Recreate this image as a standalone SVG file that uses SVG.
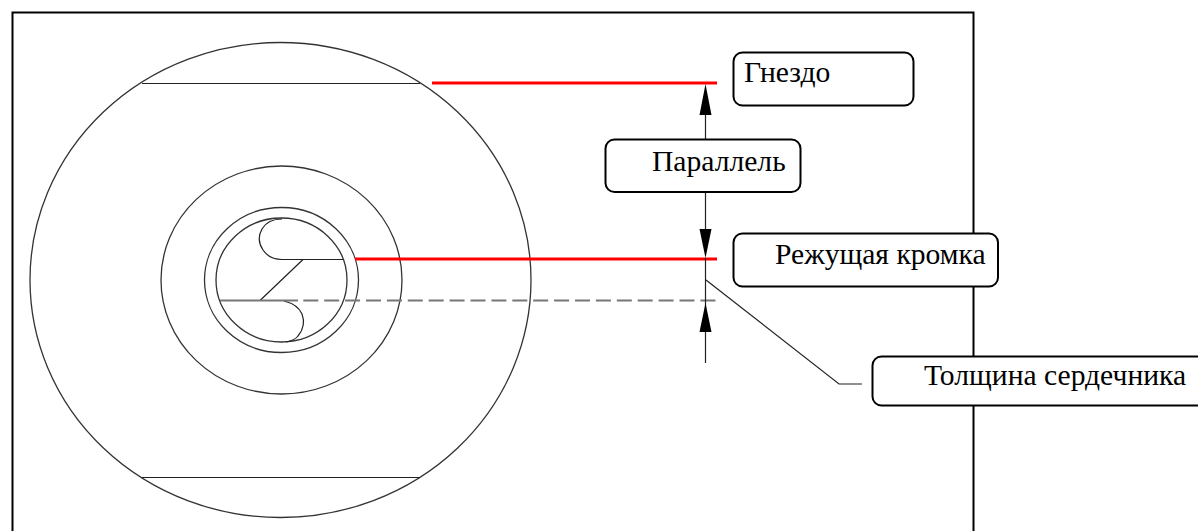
<svg xmlns="http://www.w3.org/2000/svg" width="1198" height="531" viewBox="0 0 1198 531">
<style>
.g{fill:none;stroke:#333;stroke-width:1.3}
.t{fill:none;stroke:#222;stroke-width:1.200}
.r{fill:none;stroke:#f00;stroke-width:3}
.b{fill:#fff;stroke:#000;stroke-width:2}
.a{fill:#000;stroke:none}
text{font-family:"Liberation Serif","Times New Roman",serif;font-size:29.600px;fill:#000}
</style>
<rect width="1198" height="531" fill="#fff"/>
<rect id="frame" x="12.500" y="12.500" width="961" height="530" fill="none" stroke="#000" stroke-width="2"/>
<g id="part">
<ellipse class="g" cx="280.500" cy="280" rx="250.500" ry="237.500"/>
<ellipse class="g" cx="281.500" cy="280" rx="120.500" ry="114"/>
<ellipse class="g" cx="281.500" cy="280" rx="77" ry="72.500"/>
<ellipse class="g" cx="281.500" cy="280" rx="65.500" ry="62"/>
<path class="t" d="M142 83.500H420M142 477.500H420"/>
<path class="t" d="M282 219C272 219 266 222 262 229C258 236 259 244 263 250C267 256 272 259.500 282 259.500H343M303 259.500L260 300.500"/>
<path class="t" d="M284 301C292 303 299 307 302 314C305 322 303 330 298 336C295 340 291 341 286 342"/>
<path fill="none" stroke="#777" stroke-width="2" d="M220 300.500H298"/>
<path fill="none" stroke="#777" stroke-width="2" stroke-dasharray="15 5.900" d="M303.300 300.500H716"/>
</g>
<g id="connectors">
<path class="r" d="M432 83H717M355 259H717"/>
<path class="t" d="M705.500 115V139M705.500 192V229M705.500 258V363M706 280L839 384H862"/>
<path class="a" d="M705.500 84L711.500 115H699.500ZM705.500 258L699.500 229H711.500ZM705.500 303L711.500 332H699.500Z"/>
</g>
<g id="node-gnezdo"><rect class="b" x="733.500" y="52.500" width="180" height="53" rx="9"/><text x="744" y="82">Гнездо</text></g>
<g id="node-parallel"><rect class="b" x="605.500" y="139.500" width="195" height="52.500" rx="9"/><text x="652" y="171">Параллель</text></g>
<g id="node-edge"><rect class="b" x="733.500" y="233.500" width="264.500" height="53" rx="9"/><text x="775" y="264">Режущая кромка</text></g>
<g id="node-core"><rect class="b" x="872.500" y="356.500" width="340" height="49" rx="9"/><text x="924" y="385">Толщина сердечника</text></g>
</svg>
